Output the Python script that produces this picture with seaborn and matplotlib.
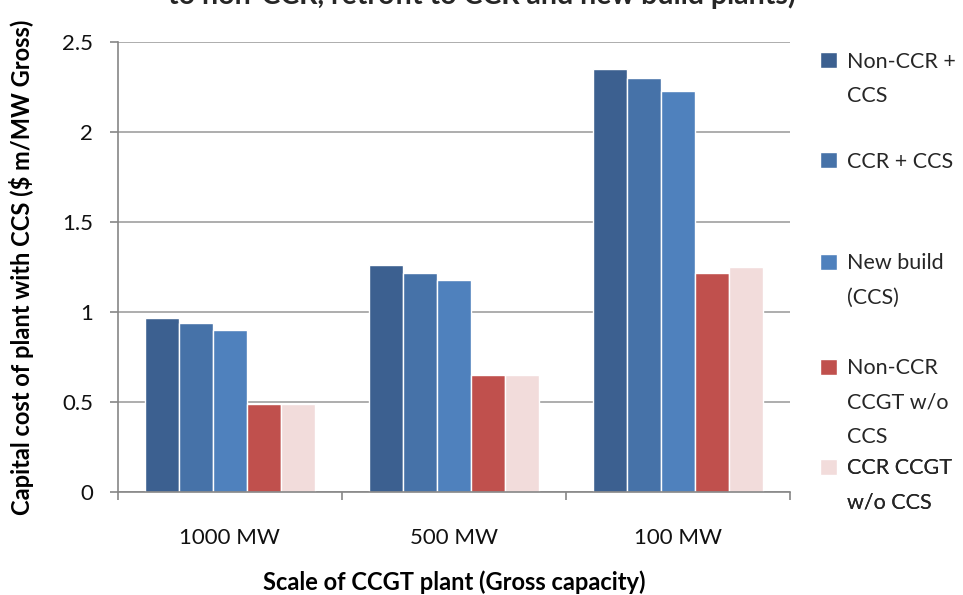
import matplotlib
matplotlib.use("Agg")
import matplotlib.pyplot as plt
from matplotlib.patches import Patch
import seaborn as sns
import pandas as pd

# Plant scales and the cost series for each configuration ($ m/MW gross)
scales = ["1000 MW", "500 MW", "100 MW"]
series = ["Non-CCR + CCS", "CCR + CCS", "New build (CCS)",
          "Non-CCR CCGT w/o CCS", "CCR CCGT w/o CCS"]
non_ccr_ccs = [0.97, 1.26, 2.35]
ccr_ccs = [0.94, 1.22, 2.30]
new_build_ccs = [0.90, 1.18, 2.23]
non_ccr_no_ccs = [0.49, 0.65, 1.22]
ccr_no_ccs = [0.49, 0.65, 1.25]
legend_lines = [["Non-CCR +", "CCS"], ["CCR + CCS"], ["New build", "(CCS)"],
                ["Non-CCR", "CCGT w/o", "CCS"], ["CCR CCGT", "w/o CCS"]]
y_ticks = [0, 0.5, 1, 1.5, 2, 2.5]
y_tick_labels = ["0", "0.5", "1", "1.5", "2", "2.5"]

colors = ["#3C6090", "#4672A8", "#4F81BD", "#C0504D", "#F2DCDB"]

values = [non_ccr_ccs, ccr_ccs, new_build_ccs, non_ccr_no_ccs, ccr_no_ccs]
df = pd.DataFrame(
    [(s, name, v) for name, vals in zip(series, values) for s, v in zip(scales, vals)],
    columns=["scale", "type", "cost"],
)

sns.set_theme(style="white")
plt.rcParams["font.family"] = ["Lato", "DejaVu Sans"]

fig = plt.figure(figsize=(9.63, 5.95), dpi=100)
ax = fig.add_axes([0.1225, 0.173, 0.6975, 0.756])

sns.barplot(data=df, x="scale", y="cost", hue="type", order=scales,
            hue_order=series, palette=colors, width=0.76, saturation=1,
            edgecolor="white", linewidth=1.0, ax=ax)

handles, labels = ax.get_legend_handles_labels()
ax.get_legend().remove()

axis_grey = "#868686"
ax.set_ylim(0, 2.5)
ax.set_xlim(-0.5, 2.5)
ax.set_yticks(y_ticks)
ax.set_yticklabels(y_tick_labels)
ax.yaxis.grid(True, color="#A0A0A0", linewidth=1.2)
ax.set_axisbelow(True)
for side in ["top", "right"]:
    ax.spines[side].set_visible(False)
for side in ["left", "bottom"]:
    ax.spines[side].set_color(axis_grey)
    ax.spines[side].set_linewidth(1.2)

# category separators as outward ticks on the x axis
ax.set_xticks([-0.5, 0.5, 1.5, 2.5], minor=True)
ax.tick_params(axis="x", which="minor", length=6, color=axis_grey, width=1.2,
               direction="out", bottom=True)
ax.tick_params(axis="x", which="major", length=0, labelsize=16, pad=26,
               labelcolor="#111111")
ax.tick_params(axis="y", which="major", length=6, color=axis_grey, width=1.2,
               direction="out", left=True, labelsize=16, pad=12,
               labelcolor="#111111")

ax.set_xlabel("Scale of CCGT plant (Gross capacity)", fontsize=17,
              fontweight="bold", labelpad=16, color="black")
ax.set_ylabel("Capital cost of plant with CCS ($ m/MW Gross)", fontsize=17,
              fontweight="bold", labelpad=20, color="black")

fig.text(0.50, 1 - 4 / 595,
         "to non-CCR, retrofit to CCR and new build plants)",
         ha="center", va="baseline", fontsize=20.5, fontweight="bold")

# one legend block per series, each line as its own row
blank = Patch(alpha=0)
tops = [0.913, 0.745, 0.574, 0.398, 0.230]
for handle, lines, top in zip(handles, legend_lines, tops):
    hs = [handle] + [blank] * (len(lines) - 1)
    leg = ax.legend(hs, lines, loc="upper left",
                    bbox_to_anchor=(0.852, top), bbox_transform=fig.transFigure,
                    frameon=False, fontsize=15.5, handlelength=0.75,
                    handleheight=0.75, handletextpad=0.5, labelspacing=0.68,
                    borderpad=0, borderaxespad=0)
    ax.add_artist(leg)

fig.savefig("out.png", dpi=100)
